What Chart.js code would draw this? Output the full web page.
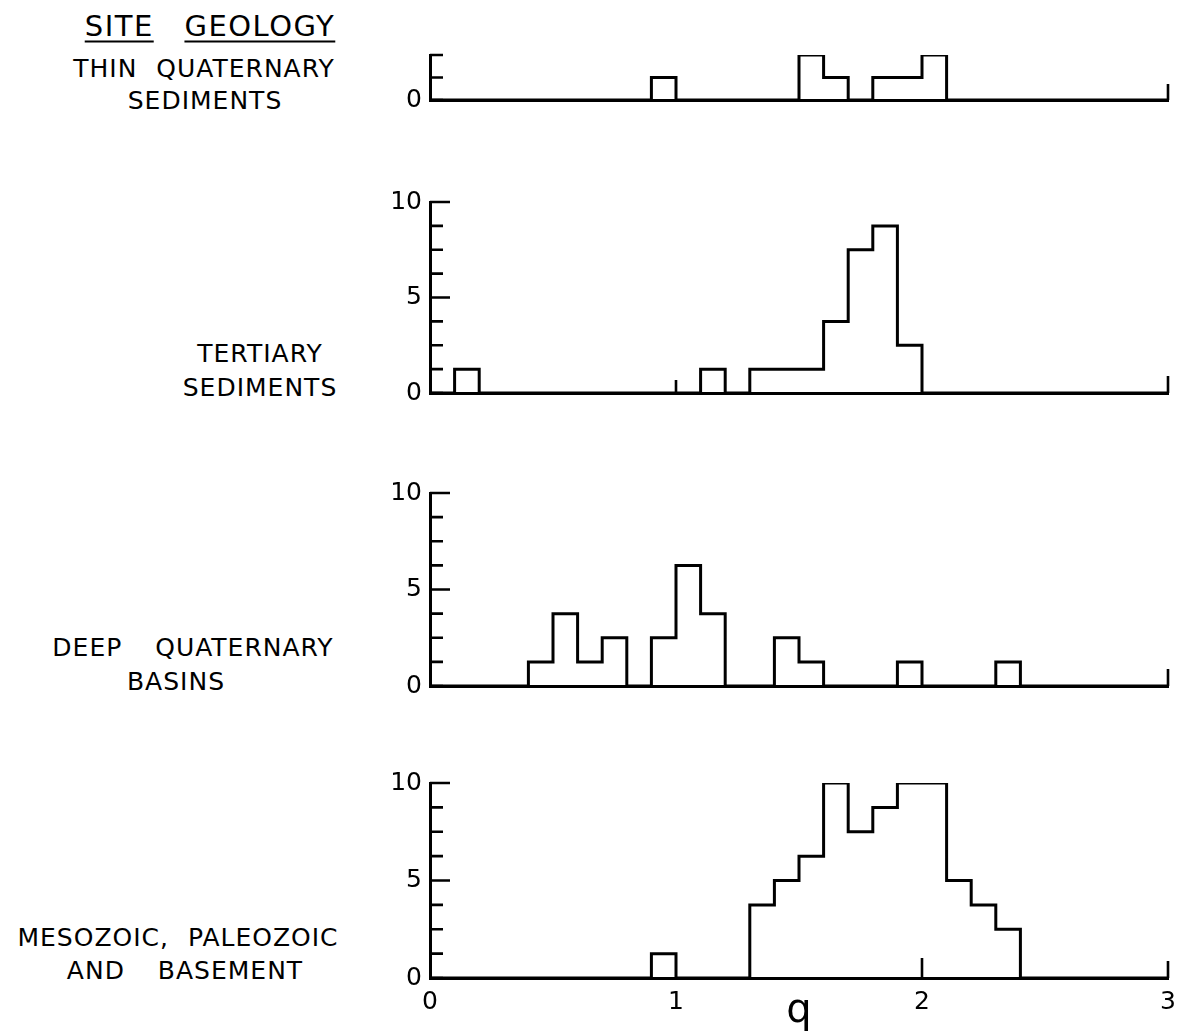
<!DOCTYPE html>
<html>
<head>
<meta charset="utf-8">
<script src="https://cdn.jsdelivr.net/npm/chart.js@4.4.0/dist/chart.umd.min.js"></script>
<style>
  body { margin: 0; background: #fff; }
  #page { position: relative; width: 1189px; height: 1036px; overflow: hidden; background: #fff; }
  canvas { position: absolute; }
  .lbl {
    position: absolute; transform: translate(-50%, -50%);
    font-family: "DejaVu Sans", sans-serif; font-size: 25px; color: #000;
    letter-spacing: 1px; word-spacing: 10px; white-space: pre; line-height: 1;
  }
  .wide { word-spacing: 24px; }
  .head { font-size: 29px; letter-spacing: 1.5px; word-spacing: 20px; }
  .u { text-decoration: underline; text-decoration-thickness: 2px; text-underline-offset: 5px; }
</style>
</head>
<body>
<div id="page">
  <div class="lbl head" style="left:210px;top:26px"><span class="u">SITE</span> <span class="u">GEOLOGY</span></div>
  <div class="lbl" style="left:204px;top:68px">THIN QUATERNARY</div>
  <div class="lbl" style="left:205px;top:100px">SEDIMENTS</div>
  <div class="lbl" style="left:260px;top:353px">TERTIARY</div>
  <div class="lbl" style="left:260px;top:387px">SEDIMENTS</div>
  <div class="lbl wide" style="left:193px;top:647px">DEEP QUATERNARY</div>
  <div class="lbl" style="left:176px;top:681px">BASINS</div>
  <div class="lbl" style="left:178px;top:937px">MESOZOIC, PALEOZOIC</div>
  <div class="lbl wide" style="left:185px;top:970px">AND BASEMENT</div>

  <canvas id="c1" width="809" height="91" style="left:380px;top:32px"></canvas>
  <canvas id="c2" width="809" height="237" style="left:380px;top:179px"></canvas>
  <canvas id="c3" width="809" height="239" style="left:380px;top:470px"></canvas>
  <canvas id="c4" width="809" height="276" style="left:380px;top:760px"></canvas>
</div>
<script>
// bin edges of q (bins are 0.1 wide)
const binEdges = [0.0, 0.1, 0.2, 0.3, 0.4, 0.5, 0.6, 0.7, 0.8, 0.9,
                  1.0, 1.1, 1.2, 1.3, 1.4, 1.5, 1.6, 1.7, 1.8, 1.9,
                  2.0, 2.1, 2.2, 2.3, 2.4, 2.5, 2.6, 2.7, 2.8, 2.9, 3.0];

// height of each bin, one value per bin start
const thinQuaternary = [0, 0, 0, 0, 0, 0, 0, 0, 0, 1.25,
                        0, 0, 0, 0, 0, 2.5, 1.25, 0, 1.25, 1.25,
                        2.5, 0, 0, 0, 0, 0, 0, 0, 0, 0];
const tertiary = [0, 1.25, 0, 0, 0, 0, 0, 0, 0, 0,
                  0, 1.25, 0, 1.25, 1.25, 1.25, 3.75, 7.5, 8.75, 2.5,
                  0, 0, 0, 0, 0, 0, 0, 0, 0, 0];
const deepQuaternary = [0, 0, 0, 0, 1.25, 3.75, 1.25, 2.5, 0, 2.5,
                        6.25, 3.75, 0, 0, 2.5, 1.25, 0, 0, 0, 1.25,
                        0, 0, 0, 1.25, 0, 0, 0, 0, 0, 0];
const basement = [0, 0, 0, 0, 0, 0, 0, 0, 0, 1.25,
                  0, 0, 0, 3.75, 5, 6.25, 10, 7.5, 8.75, 10,
                  10, 5, 3.75, 2.5, 0, 0, 0, 0, 0, 0];

const yLabels = [0, 5, 10];
const xLabels = [0, 1, 2, 3];

const FONT = "'DejaVu Sans', sans-serif";

function toPoints(values) {
    const pts = values.map((v, i) => ({ x: binEdges[i], y: v }));
    pts.push({ x: binEdges[binEdges.length - 1], y: 0 });
    return pts;
}

// small tick marks drawn inward from the axes, like the original plot
const innerTicks = {
    id: "innerTicks",
    afterDatasetsDraw(chart, args, opts) {
        const { ctx } = chart;
        const x = chart.scales.x, y = chart.scales.y;
        ctx.save();
        ctx.strokeStyle = "#000";
        ctx.lineWidth = 2.6;
        ctx.beginPath();
        for (let v = 0; v <= y.max + 1e-6; v += 1.25) {
            const py = y.getPixelForValue(v);
            const len = (opts.longTicks && v > 0 && v % 5 === 0) ? 20 : 13;
            ctx.moveTo(x.left, py);
            ctx.lineTo(x.left + len, py);
        }
        (opts.xMarks || []).forEach((m) => {
            const px = x.getPixelForValue(m[0]);
            ctx.moveTo(px, y.bottom);
            ctx.lineTo(px, y.bottom - m[1]);
        });
        ctx.stroke();
        ctx.restore();
    },
};

function makePanel(id, values, yMax, xHeight, showX, xMarks, longTicks) {
    const ctx = document.getElementById(id).getContext("2d");
    return new Chart(ctx, {
        type: "line",
        data: {
            datasets: [{
                data: toPoints(values),
                stepped: "before",
                borderColor: "#000",
                borderWidth: 3,
                pointRadius: 0,
                fill: false,
            }],
        },
        options: {
            responsive: false,
            animation: false,
            events: [],
            layout: { padding: { top: 0, right: 21, left: 0, bottom: 0 } },
            plugins: {
                legend: { display: false },
                tooltip: { enabled: false },
                innerTicks: { xMarks: xMarks, longTicks: longTicks },
            },
            scales: {
                x: {
                    type: "linear",
                    min: 0,
                    max: 3,
                    grid: { display: false, drawTicks: false },
                    border: { display: true, color: "#000", width: 3 },
                    ticks: {
                        display: showX,
                        stepSize: 1,
                        padding: 9,
                        color: "#000",
                        font: { family: FONT, size: 25 },
                        callback: (v) => (xLabels.includes(v) ? String(v) : ""),
                    },
                    title: {
                        display: showX,
                        text: "q",
                        color: "#000",
                        font: { family: FONT, size: 40 },
                        padding: { top: 0, bottom: 0 },
                    },
                    afterFit: (s) => { s.height = xHeight; },
                },
                y: {
                    min: 0,
                    max: yMax,
                    grid: { display: false, drawTicks: false },
                    border: { display: true, color: "#000", width: 3 },
                    ticks: {
                        stepSize: 1.25,
                        autoSkip: false,
                        padding: 8,
                        color: "#000",
                        font: { family: FONT, size: 25 },
                        callback: (v) => (yLabels.includes(v) ? String(v) : ""),
                    },
                    afterFit: (s) => { s.width = 50; },
                },
            },
        },
        plugins: [innerTicks],
    });
}

makePanel("c1", thinQuaternary, 2.5, 18, false, [[3, 16]], false);
makePanel("c2", tertiary, 10, 18, false, [[1, 13], [3, 17]], true);
makePanel("c3", deepQuaternary, 10, 18, false, [[3, 17]], true);
makePanel("c4", basement, 10, 58, true, [[2, 20], [3, 17]], true);
</script>
</body>
</html>
